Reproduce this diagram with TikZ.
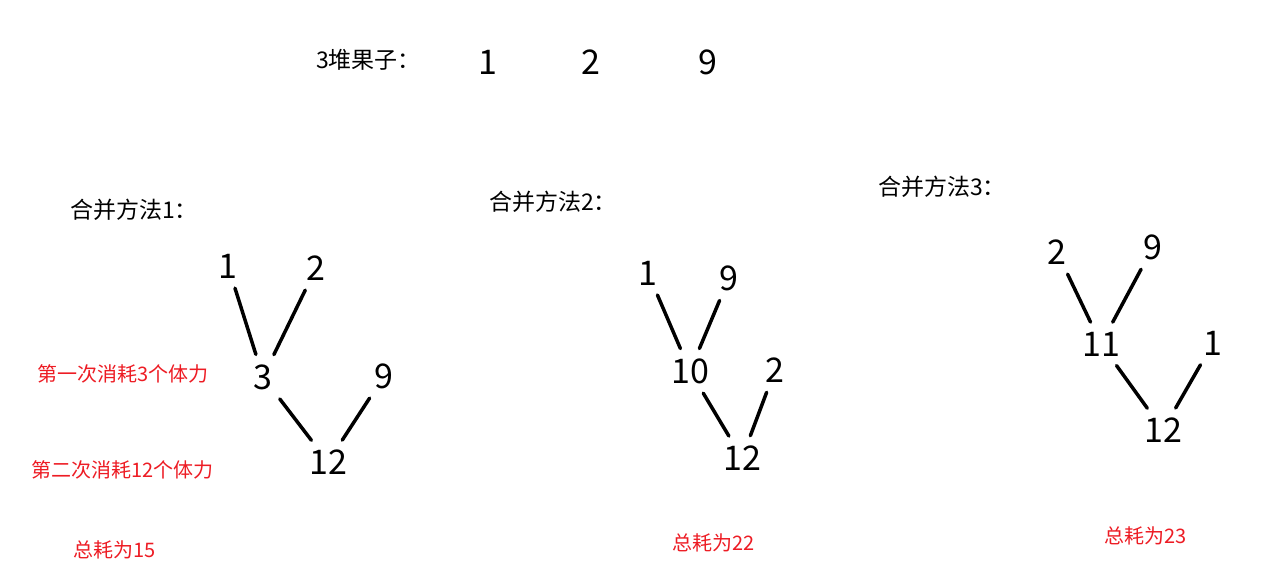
\documentclass[tikz,border=0pt]{standalone}
\usepackage{fontspec}
\setmainfont{Noto Sans CJK SC}
\usepackage{xcolor}
\usepackage{tikz}
\definecolor{paintred}{RGB}{237,28,36}

\begin{document}
\begin{tikzpicture}[x=1pt, y=-1pt,
  num/.style={font=\fontsize{34}{34}\selectfont, inner sep=6pt},
  title/.style={font=\fontsize{23}{26}\selectfont, anchor=west, inner sep=0pt},
  cost/.style={font=\fontsize{20}{23}\selectfont, text=paintred, anchor=west, inner sep=0pt},
  edge/.style={line width=3.5pt, line cap=round, shorten <=4pt, shorten >=4pt}]
  \useasboundingbox (0,0) rectangle (1273,581);
  % Heaps
  \node[title] (heaps) at (316,60) {3堆果子：};
  \node[num] (h1) at (488,62) {1};
  \node[num] (h2) at (591,62) {2};
  \node[num] (h9) at (708,62) {9};
  % Method 1
  \node[title] (m1) at (70,210) {合并方法1：};
  \node[num] (a1) at (228,266) {1};
  \node[num] (a2) at (316,268) {2};
  \node[num] (a3) at (263,377) {3};
  \node[num] (a9) at (384,376) {9};
  \node[num] (a12) at (328,462) {12};
  \draw[edge] (a1) -- (a3);
  \draw[edge] (a2) -- (a3);
  \draw[edge] (a3) -- (a12);
  \draw[edge] (a9) -- (a12);
  \node[cost] (c1) at (37,374) {第一次消耗3个体力};
  \node[cost] (c2) at (31,470) {第二次消耗12个体力};
  \node[cost] (t1) at (73,550) {总耗为15};
  % Method 2
  \node[title] (m2) at (489,202) {合并方法2：};
  \node[num] (b1) at (648,273) {1};
  \node[num] (b9) at (729,278) {9};
  \node[num] (b10) at (690,371) {10};
  \node[num] (b2) at (775,370) {2};
  \node[num] (b12) at (742,458) {12};
  \draw[edge] (b1) -- (b10);
  \draw[edge] (b9) -- (b10);
  \draw[edge] (b10) -- (b12);
  \draw[edge] (b2) -- (b12);
  \node[cost] (t2) at (672,543) {总耗为22};
  % Method 3
  \node[title] (m3) at (878,187) {合并方法3：};
  \node[num] (d2) at (1057,252) {2};
  \node[num] (d9) at (1153,247) {9};
  \node[num] (d11) at (1101,344) {11};
  \node[num] (d1) at (1213,343) {1};
  \node[num] (d12) at (1163,430) {12};
  \draw[edge] (d2) -- (d11);
  \draw[edge] (d9) -- (d11);
  \draw[edge] (d11) -- (d12);
  \draw[edge] (d1) -- (d12);
  \node[cost] (t3) at (1104,536) {总耗为23};
\end{tikzpicture}
\end{document}
